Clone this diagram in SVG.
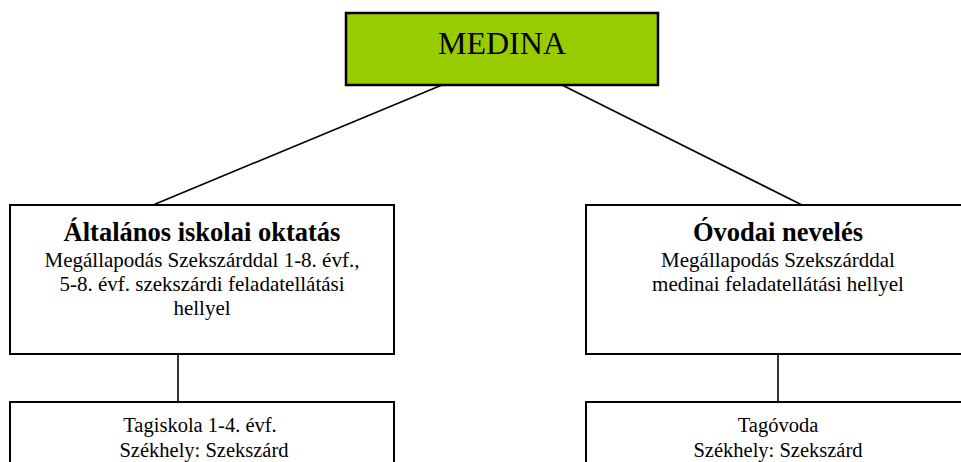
<svg xmlns="http://www.w3.org/2000/svg" width="961" height="462" viewBox="0 0 961 462">
<style>
.box{fill:#ffffff;stroke:#000000;stroke-width:2}
.top{fill:#99cc00;stroke:#000000;stroke-width:2.5}
.t{font-family:"Liberation Serif","Times New Roman",serif;fill:#000000;text-anchor:middle}
.r{font-size:21px}
.s{font-size:20.5px}
.b{font-size:26.5px;font-weight:bold}
.conn line{stroke:#000000;stroke-width:1.6}
</style>
<rect width="961" height="462" fill="#ffffff"/>
<g id="connectors" class="conn">
<line x1="442" y1="85" x2="153" y2="205"/>
<line x1="562" y1="85" x2="802" y2="205"/>
<line x1="178" y1="354" x2="178" y2="402"/>
<line x1="778" y1="354" x2="778" y2="402"/>
</g>
<g id="medina">
<rect class="top" x="346" y="13" width="312" height="72"/>
<text class="t" x="502" y="54" font-size="32">MEDINA</text>
</g>
<g id="altalanos">
<rect class="box" x="10" y="205" width="384" height="149"/>
<text class="t b" x="202" y="241">Általános iskolai oktatás</text>
<text class="t r" x="202" y="267">Megállapodás Szekszárddal 1-8. évf.,</text>
<text class="t r" x="202" y="291">5-8. évf. szekszárdi feladatellátási</text>
<text class="t r" x="202" y="315">hellyel</text>
</g>
<g id="ovodai">
<rect class="box" x="586" y="205" width="384" height="149"/>
<text class="t b" x="778" y="241">Óvodai nevelés</text>
<text class="t r" x="778" y="267">Megállapodás Szekszárddal</text>
<text class="t r" x="778" y="291">medinai feladatellátási hellyel</text>
</g>
<g id="tagiskola">
<rect class="box" x="10" y="402" width="384" height="80"/>
<text class="t s" x="200" y="432">Tagiskola 1-4. évf.</text>
<text class="t s" x="204" y="457">Székhely: Szekszárd</text>
</g>
<g id="tagovoda">
<rect class="box" x="586" y="402" width="384" height="80"/>
<text class="t s" x="778" y="432">Tagóvoda</text>
<text class="t s" x="778" y="457">Székhely: Szekszárd</text>
</g>
</svg>
